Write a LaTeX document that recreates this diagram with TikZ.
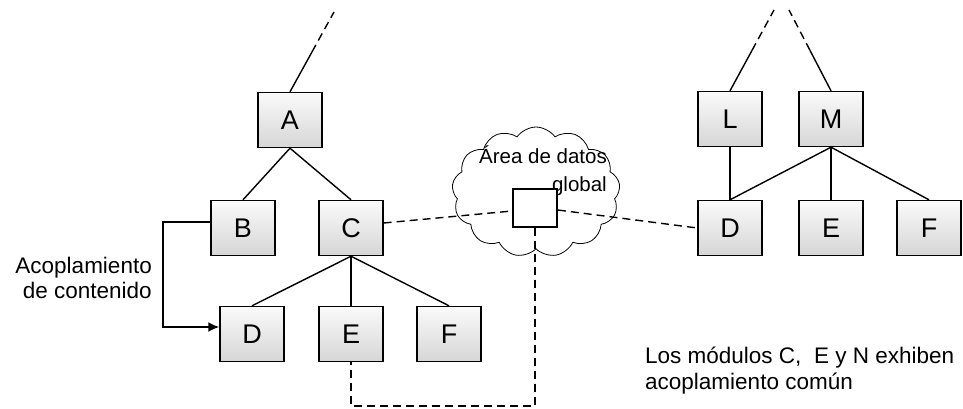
\documentclass[tikz,border=0pt]{standalone}
\usepackage{fontspec}
\setmainfont{Liberation Sans}
\usepackage{tikz}
\usetikzlibrary{shapes.symbols, arrows.meta, positioning, calc}
\definecolor{boxtop}{HTML}{FAFAFA}
\definecolor{boxbot}{HTML}{D6D6D6}

\begin{document}
\begin{tikzpicture}[
    x=1pt, y=-1pt,
    font=\fontsize{22.5}{25}\selectfont,
    modbox/.style={rectangle, draw=black, line width=1.4pt, top color=boxtop, bottom color=boxbot, minimum width=64pt, minimum height=55pt, inner sep=0pt, font=\fontsize{27}{30}\selectfont},
    tree/.style={line width=1.4pt},
    dashlink/.style={line width=1.4pt, dash pattern=on 8pt off 5pt},
    arrow/.style={-{Latex[length=11pt, width=10pt]}, line width=1.8pt}
]
\useasboundingbox (0,0) rectangle (963,409);

% Left tree
\node[modbox] (A) at (290,120) {A};
\node[modbox] (B) at (243,228) {B};
\node[modbox] (C) at (351,228) {C};
\node[modbox] (D1) at (252,334) {D};
\node[modbox] (E1) at (351,334) {E};
\node[modbox] (F1) at (449,334) {F};

% Right tree
\node[modbox] (L) at (730,119) {L};
\node[modbox] (M) at (831,119) {M};
\node[modbox] (D2) at (730,228) {D};
\node[modbox] (E2) at (831,228) {E};
\node[modbox] (F2) at (929,228) {F};

% Global data area
\node[cloud, draw, line width=0.8pt, cloud puffs=13, cloud puff arc=110, minimum width=168pt, minimum height=130pt, aspect=1.3] (cloud) at (536,192) {};
\node[align=right, anchor=base east, inner sep=0pt, font=\fontsize{20.5}{29}\selectfont] (cltext) at (607,163) {Área de datos};
\node[anchor=base east, inner sep=0pt, font=\fontsize{20.5}{29}\selectfont] (cltext2) at (cltext.base east) [yshift=-28pt] {global};
\node[rectangle, draw, line width=1.8pt, fill=white, minimum width=44pt, minimum height=38pt] (sq) at (535,208) {};

% Upper links
\coordinate (topA) at (334,12);
\coordinate (topL) at (774,10);
\coordinate (topM) at (789,10);
\draw[tree] (A.north) -- ($(A.north)!0.5!(topA)$);
\draw[dashlink] ($(A.north)!0.5!(topA)$) -- (topA);
\draw[tree] (L.north) -- ($(L.north)!0.5!(topL)$);
\draw[dashlink] ($(L.north)!0.5!(topL)$) -- (topL);
\draw[tree] (M.north) -- ($(M.north)!0.5!(topM)$);
\draw[dashlink] ($(M.north)!0.5!(topM)$) -- (topM);

% Tree links
\draw[tree] (A.south) -- (B.north);
\draw[tree] (A.south) -- (C.north);
\draw[tree] (C.south) -- (D1.north);
\draw[tree] (C.south) -- (E1.north);
\draw[tree] (C.south) -- (F1.north);
\draw[tree] (L.south) -- (D2.north);
\draw[tree] (M.south) -- (D2.north);
\draw[tree] (M.south) -- (E2.north);
\draw[tree] (M.south) -- (F2.north);

% Common coupling
\draw[dashlink] ($(C.east)+(0,-5)$) -- ($(sq.west)+(0,3)$);
\draw[dashlink] ($(sq.east)+(0,2)$) -- (D2.west);
\draw[dashlink] (sq.south) -- ++(0,178) -| (E1.south);

% Content coupling
\coordinate (bend) at (163,222);
\draw[arrow] ($(B.west)+(0,-6)$) -- (bend) |- ($(D1.west)+(0,-7)$);
\node[align=right, anchor=base east, inner sep=0pt] (acop) at (152,273) {Acoplamiento};
\node[anchor=base east, inner sep=0pt] (acop2) at (152,298) {de contenido};

% Note
\node[anchor=base west, inner sep=0pt] (nota) at (645,363) {Los módulos C,~ E y N exhiben};
\node[anchor=base west, inner sep=0pt] (nota2) at (645,389) {acoplamiento común};

\end{tikzpicture}
\end{document}
